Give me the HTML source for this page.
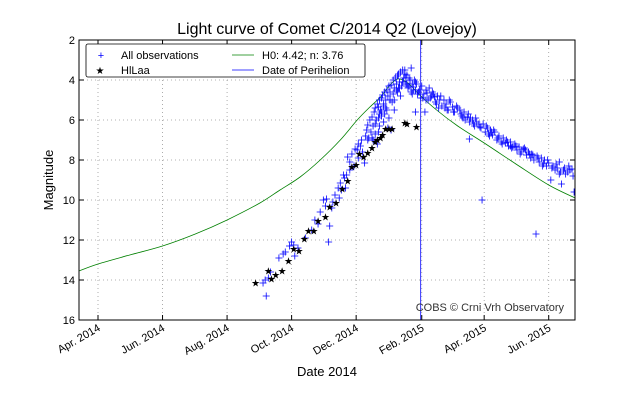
<!DOCTYPE html>
<html><head><meta charset="utf-8"><style>
body{margin:0;background:#fff}
svg{display:block;font-family:"Liberation Sans","DejaVu Sans",sans-serif}
</style></head><body>
<svg id="chart" width="640" height="400" viewBox="0 0 640 400" xmlns="http://www.w3.org/2000/svg">
<rect x="0" y="0" width="640" height="400" fill="#fff"/>
<text x="327" y="34" font-size="16" text-anchor="middle">Light curve of Comet C/2014 Q2 (Lovejoy)</text>
<g id="grid"></g>
<g id="marks"></g>
<rect x="79" y="40" width="496" height="280" fill="none" stroke="#000" stroke-width="1"/>
<g id="axes"></g>
<text x="327" y="376" font-size="13" text-anchor="middle">Date 2014</text>
<text x="0" y="0" font-size="13" text-anchor="middle" transform="translate(53,180) rotate(-90)">Magnitude</text>
<text x="564" y="311" font-size="11" text-anchor="end" fill="#333">COBS © Crni Vrh Observatory</text>
<g>
<rect x="86" y="44" width="279" height="33" rx="2" fill="#fff" stroke="#000" stroke-width="0.8"/>
<text x="101" y="59" font-size="11" fill="#00f" text-anchor="middle">+</text>
<text x="121" y="59" font-size="11">All observations</text>
<text x="100" y="74" font-size="10" text-anchor="middle">★</text>
<text x="121" y="74" font-size="11">HlLaa</text>
<line x1="232" y1="55" x2="254" y2="55" stroke="#008000" stroke-width="0.8"/>
<text x="262" y="59" font-size="11">H0: 4.42; n: 3.76</text>
<line x1="232" y1="70" x2="254" y2="70" stroke="#00f" stroke-width="0.8"/>
<text x="262" y="74" font-size="11">Date of Perihelion</text>
</g>
</svg>
<script>
// days since 1 Apr 2014
const tickLabels = ["Apr. 2014","Jun. 2014","Aug. 2014","Oct. 2014","Dec. 2014","Feb. 2015","Apr. 2015","Jun. 2015"];
const tickDays = [0,61,122,183,244,306,365,426];
const yTicks = [2,4,6,8,10,12,14,16];
const perihelionDay = [305];
const modelDays = [-18,0,30,61,92,122,153,172,191,210,229,245,257,267,276,283,290,297,304,320,340,365,395,426,451];
const modelMags = [13.55,13.2,12.75,12.3,11.7,11.0,10.15,9.5,8.85,8.0,7.0,6.0,5.35,4.85,4.25,3.95,4.05,4.35,4.75,5.5,6.3,7.15,8.2,9.25,9.9];
const starDays = [149,161,164,168,174,180,185,190,195,199,204,208,215,219,225,231,236,240,244,247,251,255,259,262,264,267,269,272,275,278,290,292,301];
const starMags = [14.15,13.55,13.95,13.75,13.55,13.05,12.45,12.55,11.95,11.55,11.55,11.05,10.85,10.35,10.15,9.45,9.05,8.35,8.25,7.7,7.85,7.65,7.4,7.1,7.0,6.9,6.75,6.45,6.45,6.45,6.15,6.2,6.35];
const obsDays = [
156,158,159,161,163,171,175,177,181,183,
185,186,189,196,202,205,208,210,213,215,
216,218,219,221,224,227,229,230,232,233,
235,236,238,240,243,245,246,248,249,250,
252,253,254,255,256,257,259,260,261,262,
263,264,265,266,266,267,268,269,270,271,
272,273,274,275,276,277,278,279,280,281,
282,283,283,284,285,286,287,288,289,290,
291,292,293,294,295,296,297,298,299,300,
301,302,304,306,308,309,311,313,314,316,
318,319,321,323,325,327,329,331,333,335,
337,339,342,344,346,349,351,352,354,356,
358,361,363,364,366,368,369,371,373,375,
377,379,381,383,385,386,388,390,392,394,
396,398,400,402,404,405,407,409,411,414,
415,417,419,421,422,424,426,428,430,432,
434,437,438,440,442,444,446,448,450,277,
280,270,265,260,300,296,290,351,268,272,
276,284,288,292,298,305,310,315,322,330,
345,360,372,390,410,436,255,258,262,265,
268,270,273,276,279,282,285,288,291,294,
297,300,303,307,310,312,317,320,324,328,
332,336,340,343,347,350,355,357,362,367,
370,374,378,382,387,391,395,399,403,408,
412,416,420,425,429,433,436,441,445,449,
262,266,271,275,280,286,274,259,264,246,
242,238,234,228,222];
const obsMags = [
14.15,14.0,14.8,13.9,13.6,12.9,12.7,12.6,12.3,12.1,
12.25,12.8,12.4,11.9,11.5,11.0,11.2,10.6,10.0,10.3,
9.95,12.1,11.3,10.4,9.75,9.4,9.15,9.5,8.75,8.9,
8.75,7.85,8.1,7.7,7.45,7.5,7.2,7.3,7.0,7.6,
8.15,6.8,6.5,6.25,6.9,6.0,5.85,6.3,5.6,5.4,
6.0,5.2,5.35,5.7,5.0,5.5,4.9,4.75,5.2,4.6,
5.0,4.5,4.8,4.3,4.6,4.25,5.1,4.0,4.4,3.9,
4.2,3.8,4.6,3.7,4.1,3.6,4.3,3.5,3.9,3.7,
4.2,3.75,4.4,3.9,4.0,4.6,4.2,4.35,4.0,4.5,
4.2,4.7,4.5,4.3,4.7,5.6,4.65,4.4,4.9,4.6,
4.85,5.1,4.8,5.0,5.3,5.0,5.2,5.5,5.1,5.35,
5.6,5.3,5.5,5.8,5.6,5.85,6.1,5.9,6.0,6.3,
6.1,6.35,10.0,6.2,6.6,6.4,6.7,6.5,6.75,6.6,
7.0,6.8,7.1,6.9,7.15,7.0,7.3,7.1,7.35,7.2,
7.5,7.35,7.6,7.45,7.5,7.75,7.6,7.9,7.75,11.7,
7.8,8.1,7.9,8.2,8.0,8.3,8.15,9.0,8.3,8.5,
8.4,8.6,9.2,8.5,8.7,8.6,8.5,8.45,9.6,6.5,
5.5,6.1,6.6,7.0,5.6,3.4,3.5,6.95,5.8,5.4,
5.0,4.4,4.1,4.2,4.5,4.9,5.0,4.8,5.4,5.5,
5.9,6.2,6.6,7.3,7.7,8.1,7.0,6.6,6.2,5.9,
5.6,5.3,5.5,5.0,4.7,4.5,4.4,4.1,3.9,4.3,
4.7,4.1,4.6,4.9,4.5,5.0,4.7,5.2,4.8,5.4,
5.0,5.6,5.4,5.7,6.0,5.7,6.2,5.9,6.4,6.3,
6.8,6.5,6.9,7.2,7.1,7.4,7.3,7.7,7.4,7.7,
8.0,7.9,8.3,8.0,8.4,8.2,8.7,8.4,8.3,8.8,
6.7,6.3,5.7,5.9,5.0,4.8,6.4,6.9,7.2,7.9,
8.3,8.5,9.4,9.9,10.1];

const NS = "http://www.w3.org/2000/svg";
const xS = d => 98 + d * 1.058;
const yS = m => 40 + (m - 2) * 20;
function mk(tag, attrs, parent) {
  const e = document.createElementNS(NS, tag);
  for (const k in attrs) e.setAttribute(k, attrs[k]);
  parent.appendChild(e);
  return e;
}
const grid = document.getElementById("grid");
const axes = document.getElementById("axes");
const marks = document.getElementById("marks");

tickDays.forEach((d, i) => {
  const x = xS(d);
  const g = mk("line", {x1:x, y1:40, x2:x, y2:320, stroke:"#999", "stroke-dasharray":"1,3", "stroke-width":0.8}, grid);
  
  
  mk("line", {x1:x, y1:320, x2:x, y2:315, stroke:"#000"}, axes);
  mk("line", {x1:x, y1:40, x2:x, y2:45, stroke:"#000"}, axes);
  const t = mk("text", {x:0, y:0, "font-size":11, "text-anchor":"end", transform:`translate(${x+3},${330}) rotate(-30)`}, axes);
  t.textContent = tickLabels[i];
  
  
});
yTicks.forEach(m => {
  const y = yS(m);
  const g = mk("line", {x1:79, y1:y, x2:575, y2:y, stroke:"#999", "stroke-dasharray":"1,3", "stroke-width":0.8}, grid);
  
  
  mk("line", {x1:79, y1:y, x2:84, y2:y, stroke:"#000"}, axes);
  mk("line", {x1:575, y1:y, x2:570, y2:y, stroke:"#000"}, axes);
  const t = mk("text", {x:75, y:y+4, "font-size":11, "text-anchor":"end"}, axes);
  t.textContent = m;
  
  
});

const clip = mk("clipPath", {id:"pc"}, marks);
mk("rect", {x:79, y:40, width:496, height:280}, clip);
const inner = mk("g", {"clip-path":"url(#pc)"}, marks);

// model curve (Catmull-Rom smoothing)
const pts = modelDays.map((d, i) => [xS(d), yS(modelMags[i])]);
let dstr = "M" + pts[0][0].toFixed(1) + "," + pts[0][1].toFixed(1);
for (let i = 0; i < pts.length - 1; i++) {
  const p0 = pts[Math.max(0, i - 1)], p1 = pts[i], p2 = pts[i + 1], p3 = pts[Math.min(pts.length - 1, i + 2)];
  const c1 = [p1[0] + (p2[0] - p0[0]) / 6, p1[1] + (p2[1] - p0[1]) / 6];
  const c2 = [p2[0] - (p3[0] - p1[0]) / 6, p2[1] - (p3[1] - p1[1]) / 6];
  dstr += ` C${c1[0].toFixed(1)},${c1[1].toFixed(1)} ${c2[0].toFixed(1)},${c2[1].toFixed(1)} ${p2[0].toFixed(1)},${p2[1].toFixed(1)}`;
}
const curve = mk("path", {d:dstr, fill:"none", stroke:"#008000", "stroke-width":0.8}, inner);



// perihelion
perihelionDay.forEach(d => {
  const p = mk("line", {x1:xS(d), y1:40, x2:xS(d), y2:320, stroke:"#00f", "stroke-width":0.8}, inner);
  
  
});

// observations
const n = Math.min(obsDays.length, obsMags.length);
for (let i = 0; i < n; i++) {
  const x = xS(obsDays[i]), y = yS(obsMags[i]);
  const p = mk("path", {d:`M${x-3.5},${y}H${x+3.5}M${x},${y-3.5}V${y+3.5}`, stroke:"#00f", "stroke-width":0.8}, inner);
  
  
}
// HlLaa stars
starDays.forEach((d, i) => {
  const x = xS(d), y = yS(starMags[i]);
  const t = mk("text", {x:x, y:y+3.5, "font-size":10, "text-anchor":"middle", fill:"#000"}, inner);
  t.textContent = "★";
  
  
});
</script>
</body></html>
